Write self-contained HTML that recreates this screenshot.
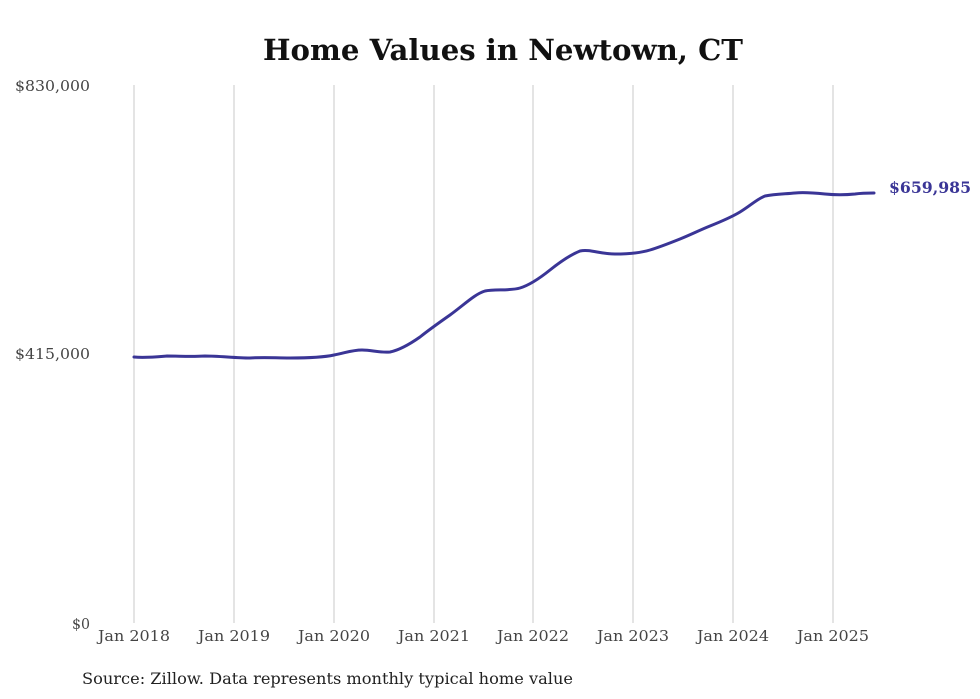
<!DOCTYPE html>
<html><head><meta charset="utf-8"><style>
html,body{margin:0;padding:0;background:#fff;}
svg{display:block;}
text{font-family:"DejaVu Serif","Liberation Serif",serif;}
</style></head><body>
<svg width="980" height="699" viewBox="0 0 980 699" xmlns="http://www.w3.org/2000/svg">
<rect width="980" height="699" fill="#fff"/>
<text x="263" y="60" font-size="29" font-weight="bold" fill="#111" textLength="480" lengthAdjust="spacingAndGlyphs">Home Values in Newtown, CT</text>
<g stroke="#c8c8c8" stroke-width="1">
<line x1="134" y1="85" x2="134" y2="623"/>
<line x1="234" y1="85" x2="234" y2="623"/>
<line x1="334" y1="85" x2="334" y2="623"/>
<line x1="434" y1="85" x2="434" y2="623"/>
<line x1="533" y1="85" x2="533" y2="623"/>
<line x1="633" y1="85" x2="633" y2="623"/>
<line x1="733" y1="85" x2="733" y2="623"/>
<line x1="833" y1="85" x2="833" y2="623"/>
</g>
<g font-size="15" fill="#444">
<text x="15" y="91" textLength="75" lengthAdjust="spacingAndGlyphs">$830,000</text>
<text x="15" y="359" textLength="75" lengthAdjust="spacingAndGlyphs">$415,000</text>
<text x="72" y="629" textLength="18" lengthAdjust="spacingAndGlyphs">$0</text>
</g>
<g font-size="15" fill="#444">
<text x="98" y="641" textLength="72" lengthAdjust="spacingAndGlyphs">Jan 2018</text>
<text x="198" y="641" textLength="72" lengthAdjust="spacingAndGlyphs">Jan 2019</text>
<text x="298" y="641" textLength="72" lengthAdjust="spacingAndGlyphs">Jan 2020</text>
<text x="398" y="641" textLength="72" lengthAdjust="spacingAndGlyphs">Jan 2021</text>
<text x="497" y="641" textLength="72" lengthAdjust="spacingAndGlyphs">Jan 2022</text>
<text x="597" y="641" textLength="72" lengthAdjust="spacingAndGlyphs">Jan 2023</text>
<text x="697" y="641" textLength="72" lengthAdjust="spacingAndGlyphs">Jan 2024</text>
<text x="797" y="641" textLength="72" lengthAdjust="spacingAndGlyphs">Jan 2025</text>
</g>
<path fill="none" stroke="#3a3596" stroke-width="3" stroke-linejoin="round" stroke-linecap="round"
d="M134,357 C145,358 155,357 167,356 C180,356 190,357 205,356 C220,356 235,358 250,358 C265,357 275,358 290,358 C310,358 325,357 334,355 C345,353 352,350 362,350 C372,350 380,353 390,352 C400,350 410,344 420,337 C430,329 440,322 450,315 C465,304 475,294 485,291 C495,289 510,291 520,288 C530,285 540,278 550,270 C560,262 570,255 580,251 C590,249 600,254 615,254 C630,254 640,253 650,250 C660,247 670,243 680,239 C690,235 700,230 710,226 C720,222 730,218 740,212 C750,206 757,199 765,196 C775,194 785,194 795,193 C805,192 815,193 825,194 C835,195 845,195 855,194 C862,193 868,193 874,193"/>
<text x="889" y="193" font-size="16" font-weight="bold" fill="#3a3596" textLength="82" lengthAdjust="spacingAndGlyphs">$659,985</text>
<text x="82" y="684" font-size="16" fill="#222" textLength="491" lengthAdjust="spacingAndGlyphs">Source: Zillow. Data represents monthly typical home value</text>
</svg>
</body></html>
